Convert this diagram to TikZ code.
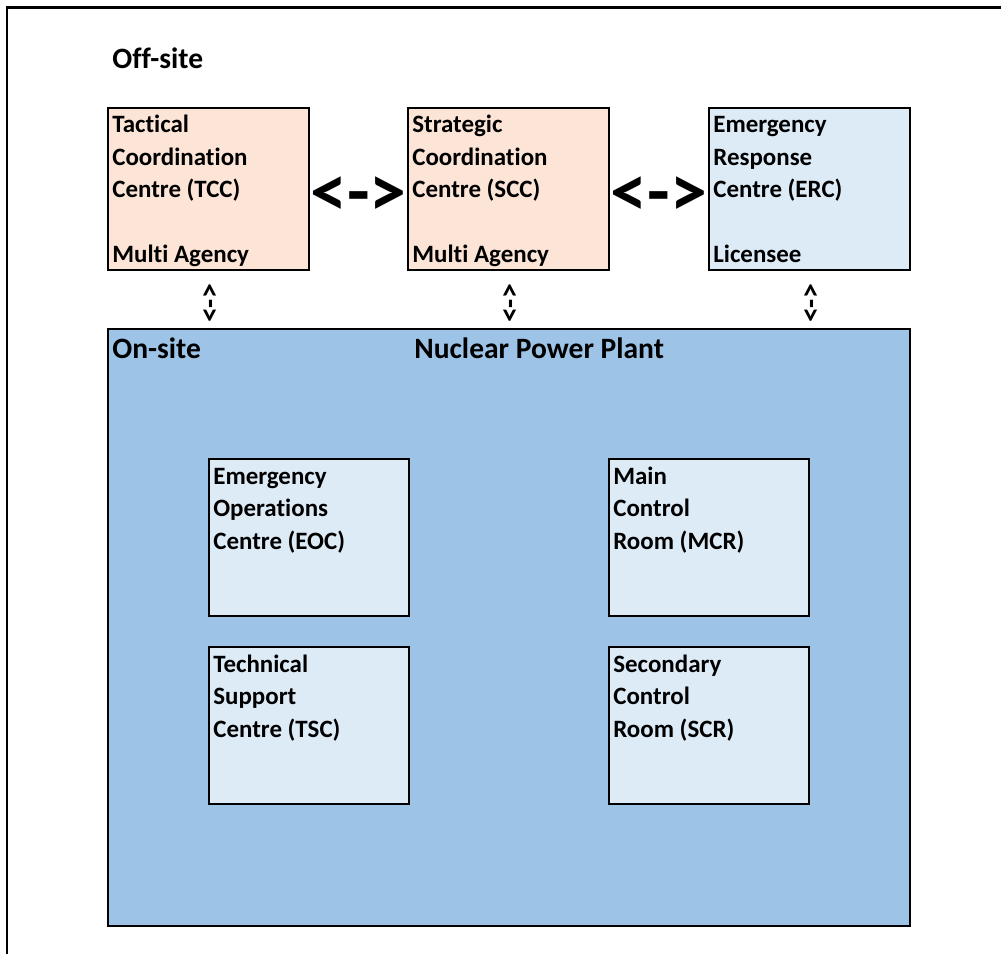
\documentclass[tikz,border=0pt]{standalone}
\usepackage{fontspec}
\setmainfont{Carlito}[Ligatures=NoCommon]
\usepackage{xcolor}
\usepackage{tikz}
\usetikzlibrary{positioning}
\definecolor{offsite}{RGB}{252,228,214}
\definecolor{licensee}{RGB}{221,235,247}
\definecolor{plant}{RGB}{157,195,230}
\newcommand{\firstline}{\rule{0pt}{0.46cm}}
\tikzset{
    centre/.style={rectangle, draw, line width=0.04cm, anchor=north west, minimum width=4.02cm, minimum height=3.24cm, inner sep=0pt},
    room/.style={rectangle, draw, line width=0.04cm, anchor=north west, minimum width=4.0cm, minimum height=3.14cm, inner sep=0pt, fill=licensee},
    site/.style={rectangle, draw, line width=0.04cm, anchor=north west, minimum width=16.04cm, minimum height=11.94cm, inner sep=0pt, fill=plant},
    caption/.style={anchor=north west, align=left, inner sep=0pt, font=\bfseries\fontsize{14.2}{18.5}\selectfont},
    title/.style={anchor=base west, inner sep=0pt, font=\bfseries\fontsize{16.8}{20}\selectfont},
    hlink/.style={inner sep=0pt, font=\bfseries\fontsize{42}{50}\selectfont},
    vlink/.style={inner sep=0pt, rotate=90, font=\bfseries\fontsize{17}{20}\selectfont}
}
\begin{document}
\begin{tikzpicture}[x=0.02cm, y=-0.02cm]
    \useasboundingbox (0,0) rectangle (1001,954);
    % Frame
    \draw[line width=0.06cm] (7,954) -- (7,7) -- (1001,7);
    \node[title] (offsite_label) at (112,68) {Off-site};

    % Off-site Centres
    \node[centre, fill=offsite] (tcc) at (107,107) {};
    \node[centre, fill=offsite] (scc) at (407,107) {};
    \node[centre, fill=licensee] (erc) at (708,107) {};
    \node[caption] (tcc_text) at ([xshift=0.1cm, yshift=-0.05cm]tcc.north west) {\firstline Tactical\\Coordination\\Centre (TCC)\\[0.65cm]Multi Agency};
    \node[caption] (scc_text) at ([xshift=0.1cm, yshift=-0.05cm]scc.north west) {\firstline Strategic\\Coordination\\Centre (SCC)\\[0.65cm]Multi Agency};
    \node[caption] (erc_text) at ([xshift=0.1cm, yshift=-0.05cm]erc.north west) {\firstline Emergency\\Response\\Centre (ERC)\\[0.65cm]Licensee};

    % On-site Plant
    \node[site] (plant) at (107,328) {};
    \node[title] (onsite_label) at (112,358) {On-site};
    \node[title] (plant_label) at (414,358) {Nuclear Power Plant};

    % Plant Rooms
    \node[room] (eoc) at (208,458) {};
    \node[room] (mcr) at (608,458) {};
    \node[room] (tsc) at (208,646) {};
    \node[room] (scr) at (608,646) {};
    \node[caption] (eoc_text) at ([xshift=0.1cm, yshift=-0.06cm]eoc.north west) {\firstline Emergency\\Operations\\Centre (EOC)};
    \node[caption] (mcr_text) at ([xshift=0.1cm, yshift=-0.06cm]mcr.north west) {\firstline Main\\Control\\Room (MCR)};
    \node[caption] (tsc_text) at ([xshift=0.1cm, yshift=-0.06cm]tsc.north west) {\firstline Technical\\Support\\Centre (TSC)};
    \node[caption] (scr_text) at ([xshift=0.1cm, yshift=-0.06cm]scr.north west) {\firstline Secondary\\Control\\Room (SCR)};

    % Links
    \path (tcc) -- (scc) node[midway, hlink, yshift=-0.16cm] (tcc_scc) {<->};
    \path (scc) -- (erc) node[midway, hlink, yshift=-0.16cm] (scc_erc) {<->};
    \path (tcc.south) -- (tcc.south |- plant.north) node[midway, xshift=0.05cm, yshift=-0.08cm, vlink] (tcc_plant) {<->};
    \path (scc.south) -- (scc.south |- plant.north) node[midway, xshift=0.05cm, yshift=-0.08cm, vlink] (scc_plant) {<->};
    \path (erc.south) -- (erc.south |- plant.north) node[midway, xshift=0.05cm, yshift=-0.08cm, vlink] (erc_plant) {<->};
\end{tikzpicture}
\end{document}
